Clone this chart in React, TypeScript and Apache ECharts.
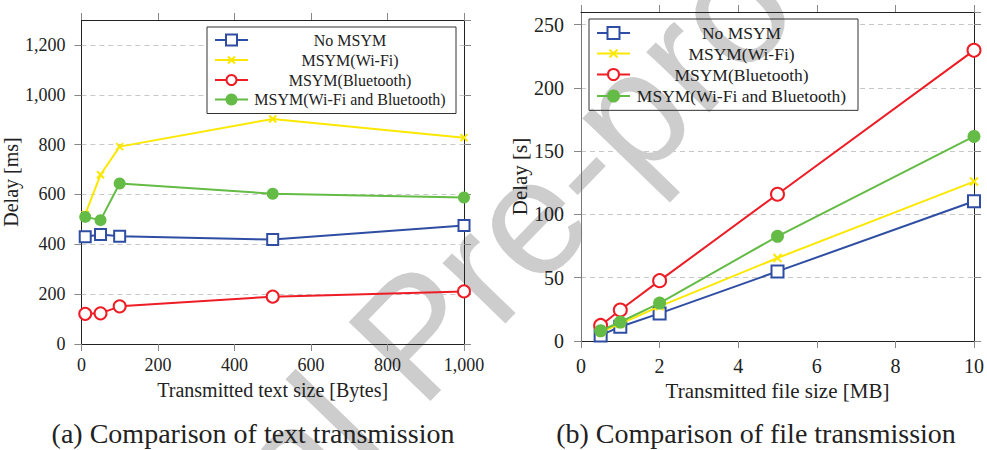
import React, { useEffect, useRef } from "react";
import * as echarts from "echarts";

// ---- data ----
const seriesNames = ["No MSYM", "MSYM(Wi-Fi)", "MSYM(Bluetooth)", "MSYM(Wi-Fi and Bluetooth)"];

const textSizes = [10, 50, 100, 500, 1000];
const textNoMsym = [430, 439, 432, 419, 475];
const textWifi = [520, 679, 792, 903, 828];
const textBluetooth = [121, 123, 151, 190, 211];
const textBoth = [510, 497, 644, 603, 588];

const fileSizes = [0.5, 1, 2, 5, 10];
const fileNoMsym = [4.4, 11.3, 21.8, 55, 110.4];
const fileWifi = [7, 13.5, 27.4, 65.6, 126];
const fileBluetooth = [12.3, 24.5, 47.7, 116, 229.7];
const fileBoth = [8.1, 15, 30, 82.7, 161.7];

const captions = ["(a) Comparison of text transmission", "(b) Comparison of file transmission"];
const xNames = ["Transmitted text size [Bytes]", "Transmitted file size [MB]"];
const yNames = ["Delay [ms]", "Delay [s]"];
const watermark = "Journal Pre-proof";

// ---- styles ----
const FONT = "Liberation Serif";
const BLUE = "#2f4ea3";
const YELLOW = "#fbe800";
const RED = "#ee1c25";
const GREEN = "#64bb45";
const COLORS = [BLUE, YELLOW, RED, GREEN];
const XPATH = "path://M0,0L10,10M10,0L0,10";

const pairs = (xs: number[], ys: number[]) => xs.map((x, i) => [x, ys[i]]);

function makeSeries(xs: number[], data: number[][], xIdx: number, yIdx: number, sym: number) {
  return data.map((ys, k) => {
    const base: any = {
      name: seriesNames[k],
      type: "line",
      xAxisIndex: xIdx,
      yAxisIndex: yIdx,
      data: pairs(xs, ys),
      lineStyle: { color: COLORS[k], width: 2 },
      z: 6 + k,
    };
    if (k === 0) {
      base.symbol = "emptyRect";
      base.symbolSize = sym - 1;
      base.itemStyle = { color: BLUE, borderWidth: 2 };
    } else if (k === 1) {
      base.symbol = XPATH;
      base.symbolSize = sym - 5;
      base.itemStyle = { color: YELLOW, borderColor: YELLOW, borderWidth: 2 };
    } else if (k === 2) {
      base.symbol = "emptyCircle";
      base.symbolSize = sym;
      base.itemStyle = { color: RED, borderWidth: 2 };
    } else {
      base.symbol = "circle";
      base.symbolSize = sym;
      base.itemStyle = { color: GREEN, borderWidth: 0 };
    }
    return base;
  });
}

function legendGraphic(x0: number, y0: number, w: number, rows: number[], lineX: [number, number], textCx: number, fontSize: number, sym: number) {
  const els: any[] = [];
  const h = rows[rows.length - 1] - y0 + (rows[1] - rows[0]) * 0.7;
  els.push({
    type: "rect",
    shape: { x: x0, y: y0, width: w, height: h },
    style: { fill: "#fff", stroke: "none" },
    z: 1,
  });
  els.push({
    type: "rect",
    shape: { x: x0, y: y0, width: w, height: h },
    style: { fill: "none", stroke: "#333", lineWidth: 1 },
    z: 50,
  });
  const mx = (lineX[0] + lineX[1]) / 2;
  rows.forEach((y, k) => {
    els.push({
      type: "line",
      shape: { x1: lineX[0], y1: y, x2: lineX[1], y2: y },
      style: { stroke: COLORS[k], lineWidth: 2.2 },
      z: 51,
    });
    const r = sym / 2;
    if (k === 0) {
      els.push({ type: "rect", shape: { x: mx - r + 0.5, y: y - r + 0.5, width: sym - 1, height: sym - 1 }, style: { fill: "#fff", stroke: BLUE, lineWidth: 2 }, z: 52 });
    } else if (k === 1) {
      const q = (sym - 5) / 2;
      els.push({ type: "line", shape: { x1: mx - q, y1: y - q, x2: mx + q, y2: y + q }, style: { stroke: YELLOW, lineWidth: 2 }, z: 52 });
      els.push({ type: "line", shape: { x1: mx - q, y1: y + q, x2: mx + q, y2: y - q }, style: { stroke: YELLOW, lineWidth: 2 }, z: 52 });
    } else if (k === 2) {
      els.push({ type: "circle", shape: { cx: mx, cy: y, r: r - 1 }, style: { fill: "#fff", stroke: RED, lineWidth: 2 }, z: 52 });
    } else {
      els.push({ type: "circle", shape: { cx: mx, cy: y, r: r }, style: { fill: GREEN }, z: 52 });
    }
    els.push({
      type: "text",
      x: textCx,
      y: y,
      style: { text: seriesNames[k], fontFamily: FONT, fontSize: fontSize, fill: "#222", align: "center", verticalAlign: "middle" },
      z: 52,
    });
  });
  return els;
}

function axesFor(gi: number, xmin: number, xmax: number, xint: number, ymax: number, yint: number, tickFont: number, nameFont: number, xMargin: number, yMargin: number, xGap: number, yGap: number, leftLineColor: string) {
  const tick = { show: true, inside: false, length: 7, lineStyle: { color: "#888", width: 1 } };
  const fmt = (v: number) => (v >= 1000 ? v.toLocaleString("en-US") : String(v));
  const xAxes = [
    {
      gridIndex: gi, type: "value", position: "bottom", min: xmin, max: xmax, interval: xint, z: 4,
      axisLine: { show: true, onZero: false, lineStyle: { color: "#222", width: 1 } },
      axisTick: tick,
      axisLabel: { formatter: fmt, fontFamily: FONT, fontSize: tickFont, color: "#222", margin: xMargin },
      splitLine: { show: false },
      name: xNames[gi], nameLocation: "middle", nameGap: xGap,
      nameTextStyle: { fontFamily: FONT, fontSize: nameFont, color: "#222" },
    },
    {
      gridIndex: gi, type: "value", position: "top", min: xmin, max: xmax, interval: xint, z: 4,
      axisLine: { show: true, onZero: false, lineStyle: { color: "#222", width: 1 } },
      axisTick: tick, axisLabel: { show: false }, splitLine: { show: false },
    },
  ];
  const yAxes = [
    {
      gridIndex: gi, type: "value", position: "left", min: 0, max: ymax, interval: yint, z: 4,
      axisLine: { show: true, onZero: false, lineStyle: { color: leftLineColor, width: 1 } },
      axisTick: tick,
      axisLabel: { formatter: fmt, fontFamily: FONT, fontSize: tickFont, color: "#222", margin: yMargin, showMaxLabel: false },
      splitLine: { show: false },
      name: yNames[gi], nameLocation: "middle", nameGap: yGap,
      nameTextStyle: { fontFamily: FONT, fontSize: nameFont, color: "#222" },
    },
    {
      gridIndex: gi, type: "value", position: "right", min: 0, max: ymax, interval: yint, z: 4,
      axisLine: { show: true, onZero: false, lineStyle: { color: "#222", width: 1 } },
      axisTick: tick, axisLabel: { show: false }, splitLine: { show: false },
    },
    {
      // grid lines only, drawn beneath the legend box and watermark
      gridIndex: gi, type: "value", position: "left", min: 0, max: ymax, interval: yint, z: 0,
      axisLine: { show: false }, axisTick: { show: false }, axisLabel: { show: false },
      splitLine: { show: true, lineStyle: { color: "#c8c8c8", type: [5, 4], width: 1 } },
    },
  ];
  return { xAxes, yAxes };
}

export default function App() {
  const ref = useRef<HTMLDivElement>(null);
  useEffect(() => {
    if (!ref.current) return;
    const chart = echarts.init(ref.current, null, { renderer: "svg" });
    const a = axesFor(0, 0, 1000, 200, 1300, 200, 18, 20, 12, 16, 36, 48, "#222");
    const b = axesFor(1, 0, 10, 2, 260, 50, 20, 21, 15, 17, 38, 42, "#777");

    const series = [
      ...makeSeries(textSizes, [textNoMsym, textWifi, textBluetooth, textBoth], 0, 0, 12),
      ...makeSeries(fileSizes, [fileNoMsym, fileWifi, fileBluetooth, fileBoth], 2, 3, 13),
    ];

    const graphic: any[] = [
      ...legendGraphic(207, 27, 249, [40, 60, 80, 99.5], [215, 248], 350, 16, 12),
      ...legendGraphic(589, 19, 269, [33, 53.5, 74.5, 96], [597, 630], 741.5, 17.5, 13),
      {
        type: "text", x: 253, y: 433, z: 60,
        style: { text: captions[0], fontFamily: FONT, fontSize: 28, fill: "#222", align: "center", verticalAlign: "middle" },
      },
      {
        type: "text", x: 756, y: 433, z: 60,
        style: { text: captions[1], fontFamily: FONT, fontSize: 28, fill: "#222", align: "center", verticalAlign: "middle" },
      },
      {
        type: "text", x: 415, y: 335, rotation: (46 * Math.PI) / 180,
        style: { text: watermark, fontFamily: "Liberation Sans", fontSize: 165, fill: "#cdcdcd", align: "center", verticalAlign: "middle" },
        z: 2,
        silent: true,
      },
    ];

    chart.setOption({
      animation: false,
      backgroundColor: "#fff",
      grid: [
        { left: 74, top: 20, width: 390, height: 324 },
        { left: 581, top: 12, width: 397, height: 329 },
      ],
      xAxis: [...a.xAxes, ...b.xAxes],
      yAxis: [...a.yAxes, ...b.yAxes],
      series,
      graphic,
    });
    return () => chart.dispose();
  }, []);
  return <div ref={ref} style={{ position: "absolute", left: 0, top: 0, width: 987, height: 450 }} />;
}
